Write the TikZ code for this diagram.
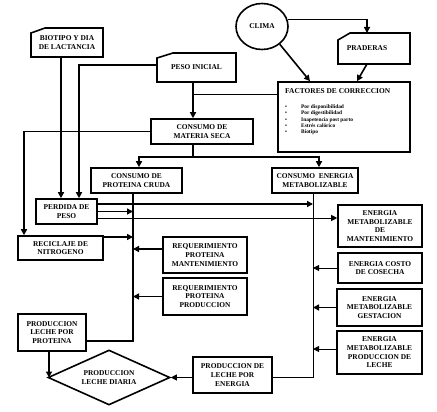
\documentclass[tikz,border=0pt]{standalone}
\usepackage{fontspec}
\setmainfont{Liberation Serif}
\usetikzlibrary{arrows.meta,shapes.geometric}
\newcommand\bxfont{\fontsize{7.4}{8.7}\selectfont\bfseries}
\newcommand\smfont{\fontsize{5.4}{6.3}\selectfont\bfseries}
\newcommand\itm[1]{\makebox[16pt][l]{\textbullet}#1}
\begin{document}
\begin{tikzpicture}[x=1pt,y=-1pt,
  boxline/.style={line width=1.6pt, line join=miter},
  box/.style={draw, line width=1.6pt, inner sep=1pt, align=center, font=\bxfont},
  plain/.style={draw=none, inner sep=1pt, outer sep=0pt, align=center, font=\bxfont},
  thk/.style={line width=1.6pt},
  thn/.style={line width=0.8pt},
  tip/.style={-{Triangle[length=6pt,width=6pt]}}
]
\useasboundingbox (0,0) rectangle (437,412);

% top nodes
\node[plain, minimum width=72pt, minimum height=29pt] (bio) at (67,42.5) {BIOTIPO Y DIA\\DE LACTANCIA};
\draw[boxline] ([yshift=-5pt]bio.north west) -- ([xshift=14pt]bio.north west) -- (bio.north east) -- (bio.south east) -- (bio.south west) -- cycle;

\node[plain, minimum width=79pt, minimum height=29pt] (pesoi) at (196.5,67.5) {PESO INICIAL};
\draw[boxline] ([yshift=-5pt]pesoi.north west) -- ([xshift=16pt]pesoi.north west) -- (pesoi.north east) -- (pesoi.south east) -- (pesoi.south west) -- cycle;

\node[draw, ellipse, line width=1.6pt, minimum width=52pt, minimum height=46pt, inner sep=0pt, font=\bxfont] (clima) at (262,26.5) {CLIMA};

\node[plain, minimum width=72pt, minimum height=31pt] (prad) at (374,48.5) {PRADERAS\hspace*{14pt}};
\draw[boxline] ([yshift=-7pt]prad.north west) -- ([xshift=12pt]prad.north west) -- (prad.north east) -- (prad.south east) -- (prad.south west) -- cycle;

\node[box, minimum width=132pt, minimum height=70pt] (fact) at (344,117) {};
\node[plain, anchor=west] (facttitle) at ([xshift=7pt,yshift=-10pt]fact.north west) {FACTORES DE CORRECCION};
\node[plain, anchor=north west, align=left, inner sep=0pt, font=\smfont] (factlist) at ([xshift=8pt,yshift=-23.5pt]fact.north west)
  {\itm{Por disponibilidad}\\\itm{Por digestibilidad}\\\itm{Inapetencia post parto}\\\itm{Estrés calórico}\\\itm{Biotipo}};

% middle
\node[box, minimum width=102pt, minimum height=25pt] (ms) at (202,131.5) {CONSUMO DE\\MATERIA SECA};
\node[box, minimum width=91pt, minimum height=25pt] (cpc) at (136.5,180.5) {CONSUMO DE\\PROTEINA CRUDA};
\node[box, minimum width=86pt, minimum height=25pt] (cem) at (315,180.5) {CONSUMO\ \ ENERGIA\\METABOLIZABLE};
\node[box, minimum width=61pt, minimum height=25pt] (perd) at (66.5,211.5) {PERDIDA DE\\PESO};
\node[box, minimum width=85pt, minimum height=24pt] (reci) at (60.5,248) {RECICLAJE DE\\NITROGENO};
\node[box, minimum width=84pt, minimum height=36pt] (rpm) at (205,255) {REQUERIMIENTO\\PROTEINA\\MANTENIMIENTO};
\node[box, minimum width=84pt, minimum height=37pt] (rpp) at (205,296.5) {REQUERIMIENTO\\PROTEINA\\PRODUCCION};
\node[box, minimum width=84pt, minimum height=42pt] (emm) at (380,226) {ENERGIA\\METABOLIZABLE\\DE\\MANTENIMIENTO};
\node[box, minimum width=84pt, minimum height=30pt] (ecc) at (380,268) {ENERGIA COSTO\\DE COSECHA};
\node[box, minimum width=85pt, minimum height=37pt] (emg) at (379.5,307.5) {ENERGIA\\METABOLIZABLE\\GESTACION};
\node[box, minimum width=85pt, minimum height=43pt] (empl) at (379.5,352.5) {ENERGIA\\METABOLIZABLE\\PRODUCCION DE\\LECHE};
\node[box, minimum width=79pt, minimum height=36pt] (ple) at (232.5,375) {PRODUCCION DE\\LECHE POR\\ENERGIA};
\node[box, minimum width=68pt, minimum height=37pt] (plp) at (52,332.5) {PRODUCCION\\LECHE POR\\PROTEINA};
\node[draw, diamond, aspect=2.2, line width=1.6pt, minimum width=122pt, minimum height=55pt, inner sep=0pt, align=center, font=\bxfont] (diam) at (109,377.5) {PRODUCCION\\LECHE DIARIA};

% helper coordinates
\coordinate (pj) at ([xshift=-3.5pt]pesoi.south);
\coordinate (pb) at ([xshift=-3.5pt]cpc.south);
\coordinate (eb) at ([xshift=-2pt]cem.south);
\coordinate (split) at ([yshift=-12pt]pj |- ms.south);

% connectors
\draw[thk,tip] ([xshift=-6pt]bio.south) -- ([xshift=-6pt]bio.south |- perd.north);
\draw[thk,tip] ([yshift=2.5pt]pesoi.west) -| ([xshift=12.5pt]perd.north);
\draw[thk,tip] (pj) -- (pj |- ms.north);
\draw[thn] ([yshift=23pt]fact.west) -- ([yshift=23pt]fact.west -| pj);
\draw[thk,tip] (clima.-45) -- ([xshift=-34pt]fact.north);
\draw[thk,tip] (clima.15) -| ([xshift=-7pt]prad.north);
\draw[thk,tip] ([xshift=-7pt]prad.south) -- ([xshift=13pt]fact.north);
\draw[thk,tip] (ms.west) -| ([xshift=-36.5pt]reci.north);
\draw[thk] (pj |- ms.south) -- (split);
\draw[thk,tip] (split) -| ([xshift=2.5pt]cpc.north);
\draw[thk,tip] (split) -| ([xshift=4pt]cem.north);
\draw[thk] (pb) |- ([yshift=-8.5pt]plp.east);
\draw[thn] (eb) |- ([yshift=-2pt]ple.east);
\draw[thk,tip] ([yshift=7.5pt]perd.east) -- ([yshift=7.5pt]perd.east -| eb);
\draw[thk,tip] (perd.east) -- (perd.east -| pb);
\draw[thn,tip] ([yshift=-6.5pt]perd.east) -- ([yshift=-6.5pt]perd.east -| emm.west);
\draw[thk,tip] ([yshift=11pt]reci.east) -- ([yshift=11pt]reci.east -| pb);
\draw[thk,tip] ([yshift=6pt]rpm.west) -- ([yshift=6pt]rpm.west -| pb);
\draw[thk,tip] (rpp.west) -- (rpp.west -| pb);
\draw[thn,tip] (ecc.west) -- (ecc.west -| eb);
\draw[thk,tip] (emg.west) -- (emg.west -| eb);
\draw[thn,tip] ([yshift=3.5pt]empl.west) -- ([yshift=3.5pt]empl.west -| eb);
\draw[thk,tip] ([xshift=-3pt]plp.south) -- ([xshift=-3pt]plp.south |- diam.west);
\draw[thn,tip] (diam.east -| ple.west) -- (diam.east);
\end{tikzpicture}
\end{document}
